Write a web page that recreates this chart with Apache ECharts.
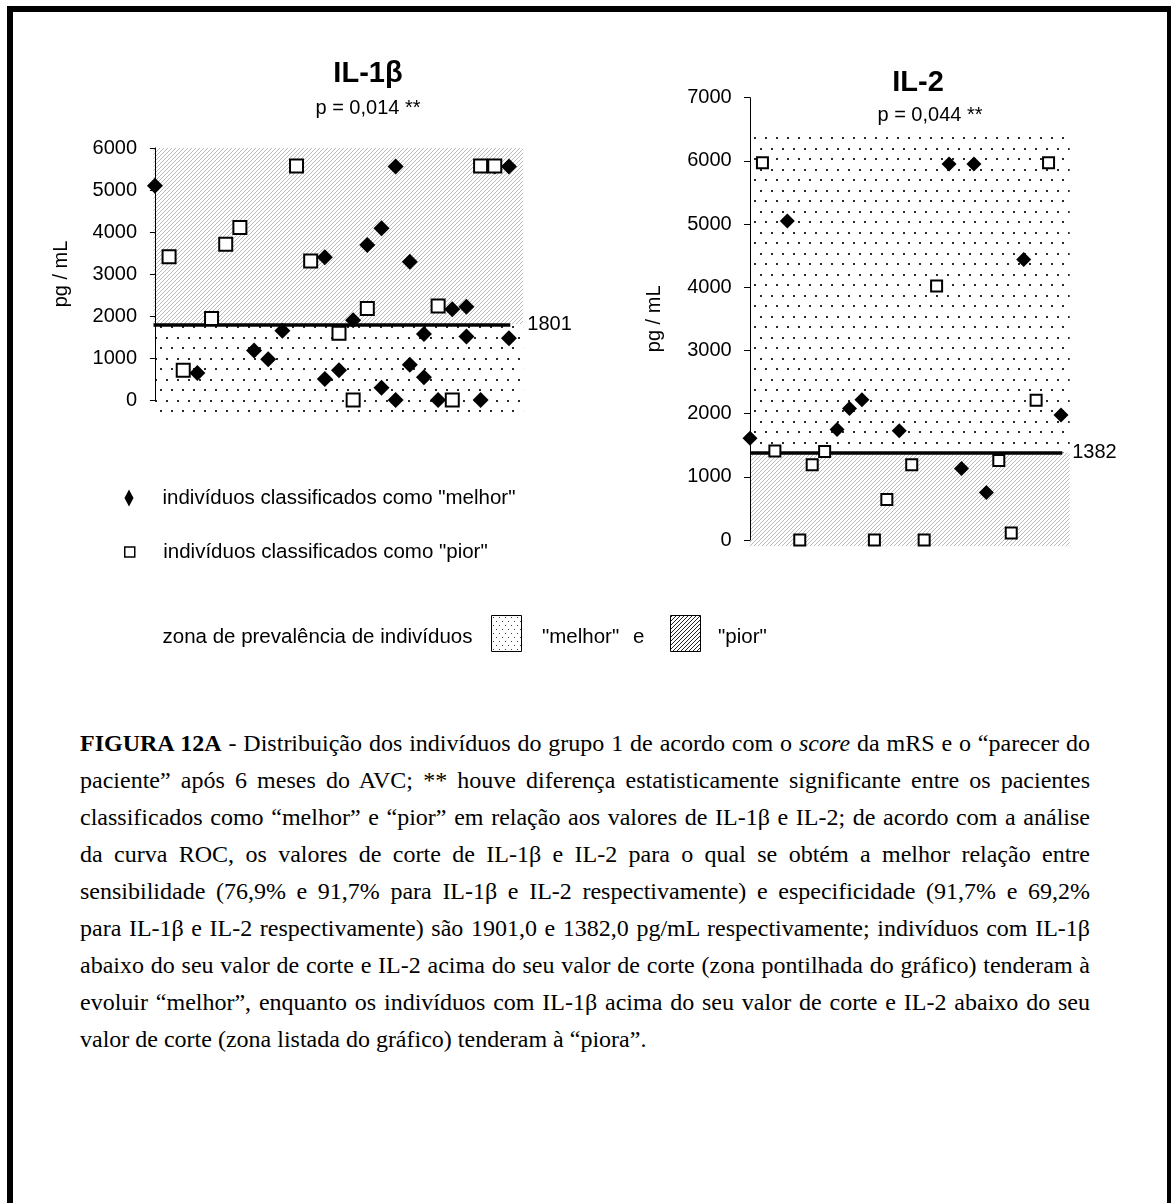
<!DOCTYPE html>
<html lang="pt-BR">
<head>
<meta charset="utf-8">
<title>Figura 12A - IL-1β e IL-2</title>
<script src="https://cdn.jsdelivr.net/npm/echarts@6/dist/echarts.min.js"></script>
<style>
  html, body { margin: 0; padding: 0; background: #fff; }
  body { width: 1171px; height: 1203px; overflow: hidden; position: relative; }
  #frame { position: absolute; left: 7px; top: 6px; width: 1154px; height: 1300px; border: 6px solid #000; }
  #chart { position: absolute; left: 0; top: 0; width: 1171px; height: 700px; }
  #caption { position: absolute; left: 80px; top: 725px; width: 1010px;
             font-family: 'Liberation Serif', 'Times New Roman', serif; font-size: 24px;
             line-height: 37px; color: #000; }
  #caption .ln { white-space: nowrap; text-align: justify; text-align-last: justify; }
  #caption .ln.last { text-align: left; text-align-last: left; }
</style>
</head>
<body>
<div id="frame"></div>
<div id="chart"></div>
<div id="caption">
  <div class="ln"><b>FIGURA 12A</b> - Distribuição dos indivíduos do grupo 1 de acordo com o <i>score</i> da mRS e o &ldquo;parecer do</div>
  <div class="ln">paciente&rdquo; após 6 meses do AVC; ** houve diferença estatisticamente significante entre os pacientes</div>
  <div class="ln">classificados como &ldquo;melhor&rdquo; e &ldquo;pior&rdquo; em relação aos valores de IL-1β e IL-2; de acordo com a análise</div>
  <div class="ln">da curva ROC, os valores de corte de IL-1β e IL-2 para o qual se obtém a melhor relação entre</div>
  <div class="ln">sensibilidade (76,9% e 91,7% para IL-1β e IL-2 respectivamente) e especificidade (91,7% e 69,2%</div>
  <div class="ln">para IL-1β e IL-2 respectivamente) são 1901,0 e 1382,0 pg/mL respectivamente; indivíduos com IL-1β</div>
  <div class="ln">abaixo do seu valor de corte e IL-2 acima do seu valor de corte (zona pontilhada do gráfico) tenderam à</div>
  <div class="ln">evoluir &ldquo;melhor&rdquo;, enquanto os indivíduos com IL-1β acima do seu valor de corte e IL-2 abaixo do seu</div>
  <div class="ln last">valor de corte (zona listada do gráfico) tenderam à &ldquo;piora&rdquo;.</div>
</div>
<script>
// ---- data: [subject position, concentration in pg/mL] ----
const il1bMelhor = [[0,5100],[3,640],[7,1180],[8,970],[9,1650],[12,3400],[12,500],[13,710],[14,1900],
  [15,3690],[16,4090],[16,290],[17,5560],[17,0],[18,3290],[18,840],[19,1570],[19,540],[20,0],[21,2160],
  [22,2220],[22,1510],[23,0],[24,5560],[25,5560],[25,1470]];
const il1bPior = [[1,3410],[2,710],[4,1940],[5,3710],[6,4110],[10,5570],[11,3310],[13,1590],[14,0],
  [15,2180],[20,2240],[21,0],[23,5570],[24,5570]];
const il2Melhor = [[0,1610],[3,5050],[7,1750],[8,2080],[9,2220],[12,1730],[16,5950],[17,1130],[18,5950],
  [19,750],[22,4440],[25,1980]];
const il2Pior = [[1,5970],[2,1410],[4,0],[5,1190],[6,1400],[10,0],[11,640],[13,1190],[14,0],[15,4020],
  [20,1260],[21,110],[23,2210],[24,5970]];

// ROC cut-off values
const il1bCut = 1801;
const il2Cut = 1382;

// zone limits (pg/mL): IL-1β "pior" above the cut, IL-2 "melhor" above the cut
const il1bZoneLimits = [-340, 6000];
const il2ZoneLimits = [-100, 6400];

// axis ranges and tick labels
const il1bTicks = [0, 1000, 2000, 3000, 4000, 5000, 6000];
const il2Ticks = [0, 1000, 2000, 3000, 4000, 5000, 6000, 7000];

const nameMelhor = 'indivíduos classificados como "melhor"';
const namePior = 'indivíduos classificados como "pior"';

// ---- fill patterns ----
function makePattern(w, h, draw) {
  const c = document.createElement('canvas');
  c.width = w; c.height = h;
  const ctx = c.getContext('2d');
  ctx.fillStyle = '#fff';
  ctx.fillRect(0, 0, w, h);
  draw(ctx, w, h);
  return { image: c, repeat: 'repeat' };
}
function hatch(color, size, lw) {
  return makePattern(size, size, (ctx, w, h) => {
    ctx.strokeStyle = color; ctx.lineWidth = lw;
    ctx.beginPath();
    ctx.moveTo(-1, h + 1); ctx.lineTo(w + 1, -1);
    ctx.moveTo(-1, 1); ctx.lineTo(1, -1);
    ctx.moveTo(w - 1, h + 1); ctx.lineTo(w + 1, h - 1);
    ctx.stroke();
  });
}
const hatchFill = hatch('#b2b2b2', 4, 0.9);
const dotFill = makePattern(11, 21, (ctx) => {
  ctx.fillStyle = '#2a2a2a';
  ctx.fillRect(1, 1, 2, 2);
  ctx.fillRect(6, 11, 2, 2);
});
const keyHatch = hatch('#222', 4, 1);
const keyDots = makePattern(6, 8, (ctx) => {
  ctx.fillStyle = '#444';
  ctx.fillRect(1, 1, 1, 1);
  ctx.fillRect(4, 5, 1, 1);
});

const font = "'Liberation Sans', Arial, Helvetica, sans-serif";

// ---- panel geometry ----
function panel(cfg) {
  const h = cfg.bottom - cfg.top;
  const yMax = cfg.ticks[cfg.ticks.length - 1];
  const zoneH = h * (yMax - cfg.zoneMin) / yMax;
  const width = (cfg.xMax - cfg.xMin) * cfg.step;
  return {
    grids: [
      { left: cfg.left, top: cfg.top, width: width, height: h },
      { left: cfg.left, top: cfg.top, width: width, height: zoneH }
    ]
  };
}

const leftCfg = { left: 153.5, top: 148, bottom: 400, xMin: -0.1, xMax: 26, step: 14.16,
  ticks: il1bTicks, zoneMin: il1bZoneLimits[0] };
const rightCfg = { left: 750, top: 97.7, bottom: 540, xMin: 0, xMax: 25.7, step: 12.44,
  ticks: il2Ticks, zoneMin: il2ZoneLimits[0] };
const pL = panel(leftCfg), pR = panel(rightCfg);

function xAxisFor(cfg, gridIndex) {
  return { type: 'value', gridIndex, min: cfg.xMin, max: cfg.xMax, show: false };
}
function mainYAxis(cfg, gridIndex, tickLen, labelMargin, nameGap) {
  const t = cfg.ticks;
  return {
    type: 'value', gridIndex, min: t[0], max: t[t.length - 1], interval: t[1] - t[0], z: 2,
    axisLine: { show: true, lineStyle: { color: '#000', width: 1 } },
    axisTick: { show: true, length: tickLen, lineStyle: { color: '#000', width: 1 } },
    axisLabel: { color: '#000', fontSize: 20, fontFamily: font, margin: labelMargin,
                 formatter: v => String(v) },
    splitLine: { show: false },
    name: 'pg / mL', nameLocation: 'middle', nameGap: nameGap,
    nameTextStyle: { color: '#000', fontSize: 20, fontFamily: font }
  };
}
function zoneYAxis(cfg, gridIndex) {
  return { type: 'value', gridIndex, min: cfg.zoneMin, max: cfg.ticks[cfg.ticks.length - 1], show: false };
}

function zoneSeries(axisIndex, bands) {
  return {
    type: 'line', xAxisIndex: axisIndex, yAxisIndex: axisIndex, data: [], silent: true, z: 1,
    markArea: {
      silent: true,
      itemStyle: { borderWidth: 0, opacity: 1 },
      data: bands.map(b => [{ yAxis: b[0], itemStyle: { color: b[2], opacity: 1 } }, { yAxis: b[1] }])
    }
  };
}
function cutSeries(axisIndex, cfg, cut, lineEnd, labelDist) {
  return {
    type: 'line', xAxisIndex: axisIndex, yAxisIndex: axisIndex, data: [], silent: true, z: 3,
    markLine: {
      silent: true, symbol: ['none', 'none'], animation: false,
      lineStyle: { color: '#000', width: 3.5, type: 'solid', opacity: 1 },
      label: { show: true, position: 'end', distance: labelDist, formatter: String(cut),
               color: '#000', fontSize: 20, fontFamily: font },
      data: [[{ coord: [cfg.xMin, cut] }, { coord: [lineEnd, cut] }]]
    }
  };
}
function melhorSeries(axisIndex, data, size) {
  return { name: nameMelhor, type: 'scatter', xAxisIndex: axisIndex, yAxisIndex: axisIndex, z: 4,
    symbol: 'diamond', symbolSize: size, data, itemStyle: { color: '#000', opacity: 1 } };
}
function piorSeries(axisIndex, data, size) {
  return { name: namePior, type: 'scatter', xAxisIndex: axisIndex, yAxisIndex: axisIndex, z: 5,
    symbol: 'rect', symbolSize: size, data,
    itemStyle: { color: '#fff', borderColor: '#000', borderWidth: 2, opacity: 1 } };
}

const option = {
  animation: false,
  textStyle: { fontFamily: font },
  title: [
    { text: 'IL-1β', left: 368, top: 59, padding: 0, textAlign: 'center',
      textStyle: { fontSize: 29, fontWeight: 'bold', color: '#000', fontFamily: font } },
    { text: 'p = 0,014 **', left: 368, top: 98, padding: 0, textAlign: 'center',
      textStyle: { fontSize: 20, fontWeight: 'normal', color: '#000', fontFamily: font } },
    { text: 'IL-2', left: 918, top: 68, padding: 0, textAlign: 'center',
      textStyle: { fontSize: 29, fontWeight: 'bold', color: '#000', fontFamily: font } },
    { text: 'p = 0,044 **', left: 930, top: 105, padding: 0, textAlign: 'center',
      textStyle: { fontSize: 20, fontWeight: 'normal', color: '#000', fontFamily: font } }
  ],
  legend: [
    { data: [nameMelhor], orient: 'vertical', left: 124.5, top: 487.5, padding: 0,
      itemWidth: 9, itemHeight: 17, symbolKeepAspect: false, selectedMode: false,
      itemStyle: { opacity: 1 },
      textStyle: { fontSize: 20.5, color: '#000', fontFamily: font, padding: [0, 0, 0, 24] } },
    { data: [namePior], orient: 'vertical', left: 124, top: 541.5, padding: 0,
      itemWidth: 10, itemHeight: 10, symbolKeepAspect: false, selectedMode: false,
      itemStyle: { borderWidth: 1.5, opacity: 1 },
      textStyle: { fontSize: 20.5, color: '#000', fontFamily: font, padding: [0, 0, 0, 23.5] } }
  ],
  grid: [pL.grids[0], pL.grids[1], pR.grids[0], pR.grids[1]],
  xAxis: [xAxisFor(leftCfg, 0), xAxisFor(leftCfg, 1), xAxisFor(rightCfg, 2), xAxisFor(rightCfg, 3)],
  yAxis: [
    mainYAxis(leftCfg, 0, 5, 16.5, 82),
    zoneYAxis(leftCfg, 1),
    mainYAxis(rightCfg, 2, 6, 18.3, 85.5),
    zoneYAxis(rightCfg, 3)
  ],
  series: [
    zoneSeries(1, [[il1bCut, il1bZoneLimits[1], hatchFill], [il1bZoneLimits[0], il1bCut, dotFill]]),
    cutSeries(0, leftCfg, il1bCut, 25.1, 17),
    melhorSeries(0, il1bMelhor, 16),
    piorSeries(0, il1bPior, 13),
    zoneSeries(3, [[il2Cut, il2ZoneLimits[1], dotFill], [il2ZoneLimits[0], il2Cut, hatchFill]]),
    cutSeries(2, rightCfg, il2Cut, 25.1, 10),
    melhorSeries(2, il2Melhor, 15),
    piorSeries(2, il2Pior, 11)
  ],
  graphic: [
    { type: 'text', x: 162.5, y: 637, silent: true,
      style: { text: 'zona de prevalência de indivíduos', fontSize: 20.5, fontFamily: font, fill: '#000', verticalAlign: 'middle' } },
    { type: 'rect', silent: true, shape: { x: 491.5, y: 615.5, width: 30, height: 36 },
      style: { fill: keyDots, stroke: '#000', lineWidth: 1 } },
    { type: 'text', x: 542, y: 637, silent: true,
      style: { text: '"melhor"', fontSize: 20.5, fontFamily: font, fill: '#000', verticalAlign: 'middle' } },
    { type: 'text', x: 633, y: 637, silent: true,
      style: { text: 'e', fontSize: 20.5, fontFamily: font, fill: '#000', verticalAlign: 'middle' } },
    { type: 'rect', silent: true, shape: { x: 670.5, y: 615.5, width: 30, height: 36 },
      style: { fill: keyHatch, stroke: '#000', lineWidth: 1 } },
    { type: 'text', x: 718, y: 637, silent: true,
      style: { text: '"pior"', fontSize: 20.5, fontFamily: font, fill: '#000', verticalAlign: 'middle' } }
  ]
};

const chart = echarts.init(document.getElementById('chart'), null, { renderer: 'canvas' });
chart.setOption(option);
</script>
</body>
</html>
